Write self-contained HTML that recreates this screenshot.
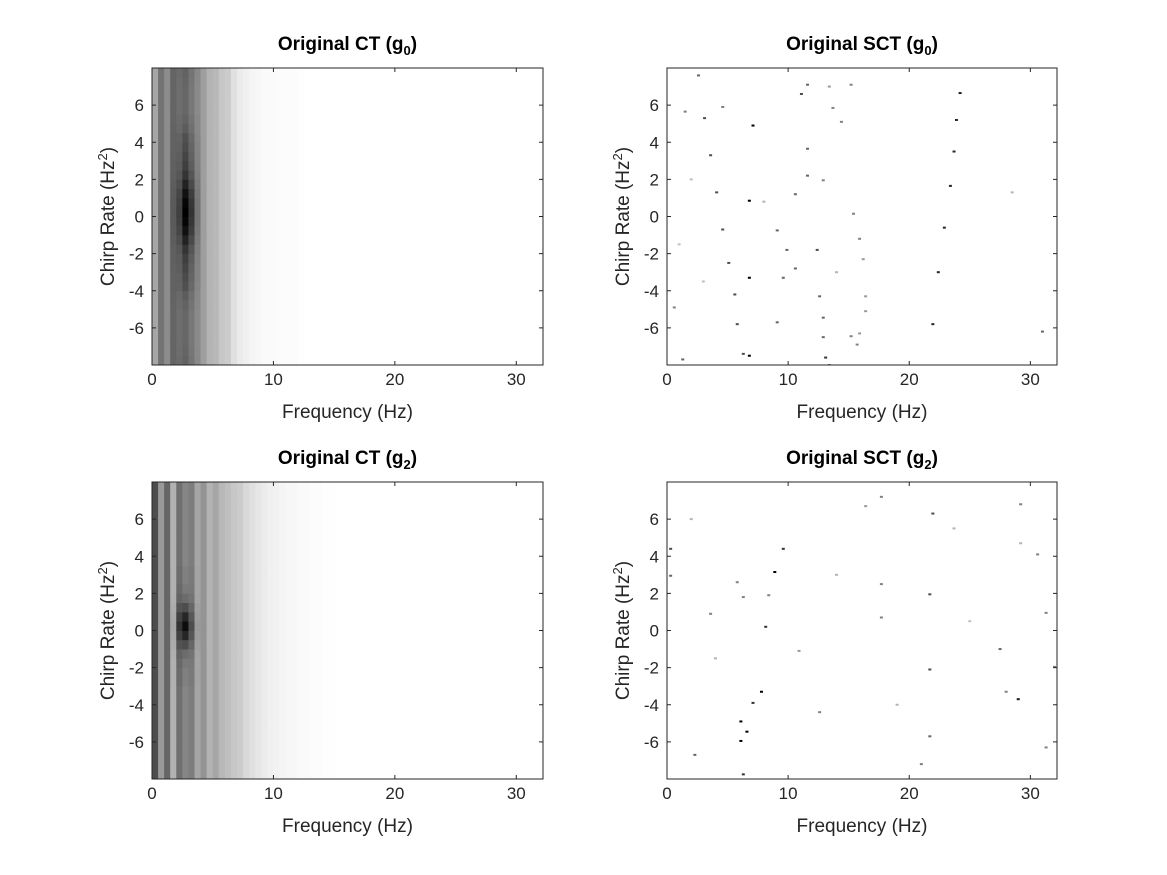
<!DOCTYPE html>
<html><head><meta charset="utf-8"><style>
html,body{margin:0;padding:0;background:#fff;}
svg{display:block;font-family:"Liberation Sans",sans-serif;}
</style></head><body>
<svg id="fig" width="1167" height="875" viewBox="0 0 1167 875"></svg>
<script>
// ---- data ----
const freqBins = [0,0.5,1,1.5,2,2.5,3,3.5,4,4.5,5,5.5,6,6.5,7,7.5,8,8.5,9,9.5,10,10.5,11,11.5,12,12.5,13,13.5,14,14.5];
const chirpBins = [-8,-7.5,-7,-6.5,-6,-5.5,-5,-4.5,-4,-3.5,-3,-2.5,-2,-1.5,-1,-0.5,0,0.5,1,1.5,2,2.5,3,3.5,4,4.5,5,5.5,6,6.5,7,7.5];
const ctG0Base = [0.35,0.55,0.45,0.6,0.55,0.55,0.5,0.45,0.38,0.3,0.28,0.22,0.2,0.12,0.08,0.06,0.04,0.03,0.02,0.02,0.015,0.01,0.01,0.01,0.005,0,0,0,0,0];
const ctG0Peak = [0,0,0,0.05,0.2,0.45,0.3,0.1,0,0,0,0,0,0,0,0,0,0,0,0,0,0,0,0,0,0,0,0,0,0];
const ctG0Row = [0.15,0.12,0.1,0.1,0.1,0.1,0.15,0.2,0.3,0.35,0.4,0.45,0.55,0.7,0.85,0.95,1,0.95,0.85,0.7,0.55,0.45,0.4,0.35,0.3,0.2,0.15,0.1,0.1,0.1,0.12,0.15];
const ctG2Base = [0.7,0.4,0.6,0.3,0.55,0.45,0.5,0.35,0.42,0.3,0.35,0.28,0.25,0.22,0.2,0.15,0.12,0.1,0.08,0.06,0.05,0.04,0.03,0.03,0.02,0.02,0.01,0.01,0.005,0.005];
const ctG2Peak = [0,0,0,0.05,0.25,0.5,0.2,0.05,0,0,0,0,0,0,0,0,0,0,0,0,0,0,0,0,0,0,0,0,0,0];
const ctG2Row = [0.05,0.05,0.05,0.05,0.05,0.05,0.05,0.05,0.05,0.05,0.1,0.1,0.15,0.25,0.5,0.8,1,0.8,0.5,0.25,0.15,0.1,0.1,0.05,0.05,0.05,0.05,0.05,0.05,0.05,0.05,0.05];
// SCT sparse points: [freq, chirp, darkness]
const sctG0 = [[24.2,6.65,0.9],[23.9,5.2,0.85],[23.7,3.5,0.85],[23.4,1.65,0.85],[22.9,-0.6,0.85],[22.4,-3.0,0.85],[21.95,-5.8,0.85],
[7.1,4.9,1],[6.8,0.85,1],[6.8,-3.3,1],[6.8,-7.5,1],[6.3,-7.4,0.7],[11.1,6.6,0.7],[11.6,3.65,0.6],[11.6,2.2,0.6],[10.6,1.2,0.6],
[9.1,-0.75,0.6],[12.9,1.95,0.5],[12.9,-5.45,0.6],[12.6,-4.3,0.6],[16.4,-4.3,0.4],[16.4,-5.1,0.4],[16.2,-2.3,0.4],[15.9,-1.2,0.5],
[15.4,0.15,0.5],[15.9,-6.3,0.4],[5.8,-5.8,0.7],[3.1,5.3,0.7],[3.6,3.3,0.7],[4.1,1.3,0.7],[4.6,-0.7,0.7],[5.1,-2.5,0.7],[5.6,-4.2,0.7],
[4.6,5.9,0.5],[2.6,7.6,0.6],[13.4,7.0,0.4],[13.7,5.85,0.5],[14.4,5.1,0.5],[31.0,-6.2,0.6],[28.5,1.3,0.3],[11.6,7.1,0.6],[15.2,7.1,0.5],
[9.9,-1.8,0.6],[12.4,-1.8,0.7],[10.6,-2.8,0.6],[9.6,-3.3,0.6],[9.1,-5.7,0.6],[12.9,-6.5,0.6],[15.2,-6.45,0.5],[15.7,-6.9,0.5],
[13.1,-7.6,0.8],[13.4,-8.0,0.5],[0.6,-4.9,0.5],[1.3,-7.7,0.6],[1.5,5.65,0.5],[8.0,0.8,0.3],[2.0,2.0,0.25],[1.0,-1.5,0.25],[3.0,-3.5,0.25],[14.0,-3.0,0.3]];
const sctG2 = [[21.95,6.3,0.7],[8.9,3.15,1],[9.6,4.4,0.8],[21.7,1.95,0.7],[8.15,0.2,0.8],[7.8,-3.3,1],[7.1,-3.9,0.8],[6.6,-5.45,1],
[6.1,-4.9,1],[6.1,-5.95,1],[6.3,-7.75,0.8],[29.0,-3.7,0.9],[27.5,-1.0,0.6],[21.7,-2.1,0.7],[21.7,-5.7,0.6],[0.3,4.4,0.7],[0.3,2.95,0.6],
[5.8,2.6,0.5],[8.4,1.9,0.5],[30.6,4.1,0.5],[29.2,6.8,0.5],[28.0,-3.3,0.5],[21.0,-7.2,0.5],[2.3,-6.7,0.6],[6.3,1.8,0.5],[3.6,0.9,0.5],
[12.6,-4.4,0.5],[17.7,7.2,0.5],[17.7,2.5,0.5],[17.7,0.7,0.5],[16.4,6.7,0.4],[31.3,0.95,0.5],[32,-1.96,0.5],[31.3,-6.3,0.5],
[29.2,4.7,0.3],[23.7,5.5,0.3],[10.9,-1.1,0.4],[4.0,-1.5,0.3],[2.0,6.0,0.3],[14.0,3.0,0.3],[19.0,-4.0,0.3],[25.0,0.5,0.25]];
const xTicks = [0,10,20,30];
const yTicks = [-6,-4,-2,0,2,4,6];
// ---- drawing ----
const NS = "http://www.w3.org/2000/svg";
const svg = document.getElementById("fig");
function mk(tag, attrs, parent){const e=document.createElementNS(NS,tag);for(const k in attrs)e.setAttribute(k,attrs[k]);(parent||svg).appendChild(e);return e;}
const X0=0,X1=32.2,Y0=-8,Y1=8;
function panel(L,R,T,B,titleMain,sub,name,drawFn){
  const g=mk("g",{});
  
  
  const xs=v=>L+(v-X0)/(X1-X0)*(R-L);
  const ys=v=>B-(v-Y0)/(Y1-Y0)*(B-T);
  const clip="clip-"+name;
  const cp=mk("clipPath",{id:clip},g);mk("rect",{x:L,y:T,width:R-L,height:B-T},cp);
  const img=mk("g",{"clip-path":"url(#"+clip+")"},g);
  
  
  drawFn(img,xs,ys);
  const box=mk("rect",{x:L,y:T,width:R-L,height:B-T,fill:"none",stroke:"#262626","stroke-width":1},g);
  
  
  xTicks.forEach(t=>{
    const x=xs(t);
    mk("line",{x1:x,y1:B,x2:x,y2:B-4,stroke:"#262626"},g);
    mk("line",{x1:x,y1:T,x2:x,y2:T+4,stroke:"#262626"},g);
    const tx=mk("text",{x:x,y:B+20,"font-size":17,"text-anchor":"middle",fill:"#262626"},g);
    tx.textContent=t;
    
    
  });
  yTicks.forEach(t=>{
    const y=ys(t);
    mk("line",{x1:L,y1:y,x2:L+4,y2:y,stroke:"#262626"},g);
    mk("line",{x1:R,y1:y,x2:R-4,y2:y,stroke:"#262626"},g);
    const ty=mk("text",{x:L-8,y:y+6,"font-size":17,"text-anchor":"end",fill:"#262626"},g);
    ty.textContent=t;
    
    
  });
  const xl=mk("text",{x:(L+R)/2,y:B+53,"font-size":19,"text-anchor":"middle",fill:"#262626"},g);
  xl.textContent="Frequency (Hz)";
  
  
  const yl=mk("text",{x:0,y:0,"font-size":19,"text-anchor":"middle",fill:"#262626",transform:"translate("+(L-38)+","+((T+B)/2)+") rotate(-90)"},g);
  yl.innerHTML='Chirp Rate (Hz<tspan dy="-7" font-size="13">2</tspan><tspan dy="7">)</tspan>';
  
  
  const ti=mk("text",{x:(L+R)/2,y:T-18,"font-size":19,"font-weight":"bold","text-anchor":"middle",fill:"#000"},g);
  ti.innerHTML=titleMain+' (g<tspan dy="5" font-size="13">'+sub+'</tspan><tspan dy="-5">)</tspan>';
  
  
}
function dense(base,peak,row){
  return function(g,xs,ys){
    freqBins.forEach((f,i)=>{
      chirpBins.forEach((c,j)=>{
        const d=Math.min(1,base[i]+peak[i]*row[j]);
        if(d<=0.004)return;
        const v=Math.round(255*(1-d));
        const r=mk("rect",{x:xs(f),y:ys(c+0.5),width:xs(f+0.5)-xs(f)+0.4,height:ys(c)-ys(c+0.5)+0.4,fill:"rgb("+v+","+v+","+v+")"},g);
        
        
      });
    });
  };
}
function sparse(pts){
  return function(g,xs,ys){
    pts.forEach(p=>{
      const v=Math.round(255*(1-p[2]));
      const r=mk("rect",{x:xs(p[0])-1.5,y:ys(p[1])-1,width:3,height:2,fill:"rgb("+v+","+v+","+v+")"},g);
      
      
    });
  };
}
panel(152,543,68,365,"Original CT","0","panel-ct-g0",dense(ctG0Base,ctG0Peak,ctG0Row));
panel(667,1057,68,365,"Original SCT","0","panel-sct-g0",sparse(sctG0));
panel(152,543,482,779,"Original CT","2","panel-ct-g2",dense(ctG2Base,ctG2Peak,ctG2Row));
panel(667,1057,482,779,"Original SCT","2","panel-sct-g2",sparse(sctG2));
</script>
</body></html>
